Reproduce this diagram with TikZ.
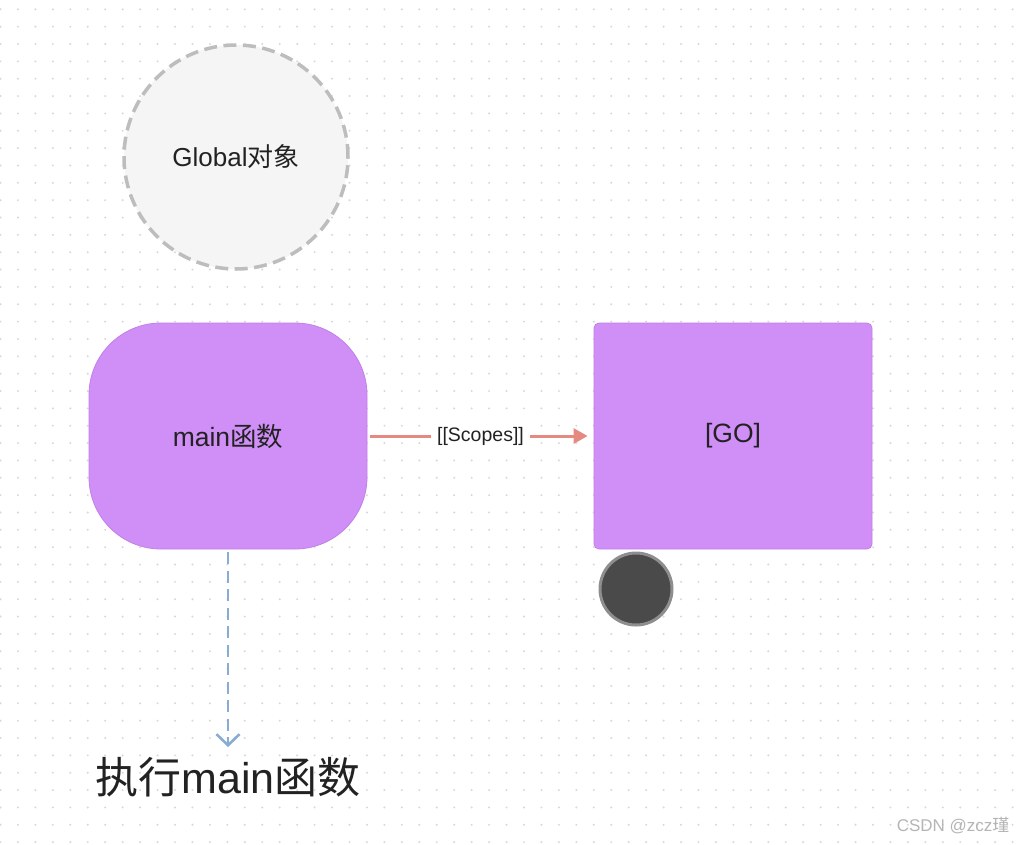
\documentclass[tikz,border=0pt]{standalone}
\usepackage{fontspec}
\setmainfont{Liberation Sans}
\newfontfamily\cjk{Noto Sans CJK SC}
\usetikzlibrary{arrows.meta}
\definecolor{dotc}{HTML}{D8D8D8}
\definecolor{globfill}{HTML}{F5F5F5}
\definecolor{globdraw}{HTML}{BDBDBD}
\definecolor{purp}{HTML}{D08EF7}
\definecolor{purpd}{HTML}{C27FE8}
\definecolor{salmon}{HTML}{E58A80}
\definecolor{dblue}{HTML}{88ACD4}
\definecolor{knobc}{HTML}{4A4A4A}
\definecolor{knobr}{HTML}{8E8E8E}
\definecolor{txt}{HTML}{222222}
\definecolor{wmc}{HTML}{B5B5B5}
\tikzset{
  globalnode/.style={circle, minimum size=224pt, fill=globfill, draw=globdraw, line width=3.5pt, dash pattern=on 13pt off 6.5pt, text=txt, font=\fontsize{26}{30}\selectfont},
  mainbox/.style={rectangle, minimum width=278pt, minimum height=226pt, rounded corners=72pt, fill=purp, draw=purpd, line width=0.8pt, text=txt, font=\fontsize{26.5}{30}\selectfont},
  gobox/.style={rectangle, minimum width=278pt, minimum height=226pt, rounded corners=5pt, fill=purp, draw=purpd, line width=0.8pt, text=txt, font=\fontsize{26.5}{30}\selectfont},
  scopearrow/.style={draw=salmon, line width=3pt, -{Triangle[length=14pt,width=15pt]}},
  scopelabel/.style={fill=white, text=txt, inner xsep=6pt, font=\fontsize{19.5}{23}\selectfont},
  execarrow/.style={draw=dblue, line width=2.6pt, dash pattern=on 12pt off 6.5pt, -{Straight Barb[length=11pt,width=23pt,line width=2.6pt]}},
  knob/.style={circle, minimum size=72pt, fill=knobc, draw=knobr, line width=3pt},
  bigtext/.style={text=txt, font=\fontsize{43}{50}\selectfont},
  wm/.style={text=wmc, font=\fontsize{17}{20}\selectfont}
}
\begin{document}
\begin{tikzpicture}[x=1pt,y=-1pt]
\useasboundingbox (0,0) rectangle (1017,844);
\fill[white] (0,0) rectangle (1017,844);
\foreach \i in {0,...,58} {
  \foreach \j in {0,...,48} {
    \fill[dotc] (0.5+17.45*\i, 9.3+17.35*\j) circle (1.1pt);
  }
}
\node[globalnode] (global) at (236,157) {Global{\cjk 对象}};
\node[mainbox] (main) at (228,436) {\raisebox{-1.5pt}{main{\cjk 函数}}};
\node[gobox] (go) at (733,436) {\raisebox{-3.5pt}{[GO]}};
\draw[scopearrow, shorten <=3pt, shorten >=6pt] (main.east) -- node[scopelabel] (scopes) {\raisebox{-2.5pt}{[[Scopes]]}} (go.west);
\node[knob] (knob) at (636,589) {};
\node[bigtext] (exec) at (228,777) {{\cjk 执行}main{\cjk 函数}};
\coordinate (execTop) at (228,747);
\draw[execarrow, shorten <=3pt] (main.south) -- (execTop);
\node[wm, anchor=east] (wm) at (1013,826) {CSDN @zcz{\cjk 瑾}};
\end{tikzpicture}
\end{document}
